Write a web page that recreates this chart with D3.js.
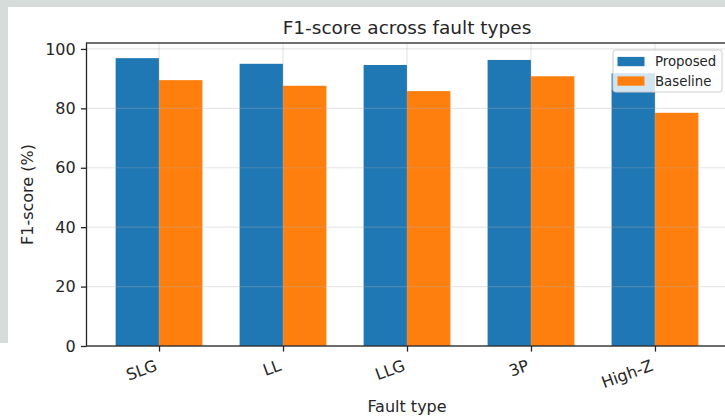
<!DOCTYPE html>
<html>
<head>
<meta charset="utf-8">
<script src="https://cdn.jsdelivr.net/npm/d3@7"></script>
<style>
  html, body { margin: 0; padding: 0; background: #ffffff; }
  svg { display: block; }
  text { font-family: "DejaVu Sans", sans-serif; fill: #262626; }
</style>
</head>
<body>
<svg id="chart" width="725" height="417"></svg>
<script>
// Fault categories and F1-scores (%) for the two methods
const faultTypes = ["SLG", "LL", "LLG", "3P", "High-Z"];
const proposedF1 = [96.9, 95.0, 94.6, 96.3, 91.8];
const baselineF1 = [89.5, 87.6, 85.8, 90.8, 78.5];
const yTicks = [0, 20, 40, 60, 80, 100];
const seriesNames = ["Proposed", "Baseline"];
const seriesColors = ["#1f77b4", "#ff7f0e"];

const W = 725, H = 417;
const svg = d3.select("#chart");

// page backdrop: grey band across the top and a strip down the left side
svg.append("rect").attr("x", 0).attr("y", 0).attr("width", W).attr("height", H).attr("fill", "#ffffff");
svg.append("rect").attr("x", 0).attr("y", 0).attr("width", W).attr("height", 7).attr("fill", "#d6dcd9");
svg.append("rect").attr("x", 0).attr("y", 0).attr("width", 8).attr("height", 343).attr("fill", "#d6dcd9");

// plot frame
const plotLeft = 86.5, plotRight = 727.5, plotTop = 43, plotBottom = 346;
const barWidth = 0.35;

const x = d3.scaleLinear().domain([-0.585, faultTypes.length - 1 + 0.585]).range([plotLeft, plotRight]);
const y = d3.scaleLinear().domain([0, 102]).range([plotBottom, plotTop]);

const g = svg.append("g");

// bars
const series = [proposedF1, baselineF1];
series.forEach((vals, s) => {
  const offset = s === 0 ? -barWidth / 2 : barWidth / 2;
  g.selectAll(null).data(vals).enter().append("rect")
    .attr("x", (d, i) => x(i + offset - barWidth / 2))
    .attr("width", (d, i) => x(i + offset + barWidth / 2) - x(i + offset - barWidth / 2))
    .attr("y", d => y(d))
    .attr("height", d => y(0) - y(d))
    .attr("fill", seriesColors[s]);
});

// grid lines (drawn over the bars, faint)
const grid = g.append("g").attr("stroke", "#b0b0b0").attr("stroke-opacity", 0.3).attr("stroke-width", 1.2);
grid.selectAll(null).data(yTicks).enter().append("line")
  .attr("x1", plotLeft).attr("x2", plotRight)
  .attr("y1", d => y(d)).attr("y2", d => y(d));
grid.selectAll(null).data(faultTypes).enter().append("line")
  .attr("x1", (d, i) => x(i)).attr("x2", (d, i) => x(i))
  .attr("y1", plotTop).attr("y2", plotBottom);

// y axis
const yAxis = d3.axisLeft(y).tickValues(yTicks).tickSize(5.6).tickPadding(5.2).tickFormat(d3.format("d"));
const yg = svg.append("g").attr("transform", `translate(${plotLeft},0)`).call(yAxis);
yg.select(".domain").remove();
yg.selectAll(".tick line").attr("stroke", "#262626").attr("stroke-width", 1.3);
yg.selectAll(".tick text").style("font-size", "16px").style("font-family", "DejaVu Sans").attr("fill", "#262626");

// x axis with slanted labels
const xAxis = d3.axisBottom(x).tickValues(d3.range(faultTypes.length)).tickSize(5.6).tickFormat(i => faultTypes[i]);
const xg = svg.append("g").attr("transform", `translate(0,${plotBottom})`).call(xAxis);
xg.select(".domain").remove();
xg.selectAll(".tick line").attr("stroke", "#262626").attr("stroke-width", 1.3);
xg.selectAll(".tick text")
  .style("font-size", "16px").style("font-family", "DejaVu Sans").attr("fill", "#262626")
  .attr("text-anchor", "end")
  .attr("dy", null)
  .attr("x", -1.3).attr("y", 24)
  .attr("transform", "rotate(-20,-1.3,24)");

// spines
svg.append("rect").attr("x", plotLeft).attr("y", plotTop)
  .attr("width", plotRight - plotLeft).attr("height", plotBottom - plotTop)
  .attr("fill", "none").attr("stroke", "#262626").attr("stroke-width", 1.3);

// title and axis labels
svg.append("text").attr("x", (plotLeft + plotRight) / 2).attr("y", 33.5).attr("text-anchor", "middle")
  .style("font-size", "18.5px").text("F1-score across fault types");
svg.append("text").attr("transform", `translate(33,${(plotTop + plotBottom) / 2}) rotate(-90)`).attr("text-anchor", "middle")
  .style("font-size", "16px").text("F1-score (%)");
svg.append("text").attr("x", (plotLeft + plotRight) / 2).attr("y", 412).attr("text-anchor", "middle")
  .style("font-size", "16px").text("Fault type");

// legend
const lg = svg.append("g").attr("transform", "translate(613,50)");
lg.append("rect").attr("width", 109).attr("height", 42).attr("rx", 2.7)
  .attr("fill", "#ffffff").attr("fill-opacity", 0.8).attr("stroke", "#cccccc").attr("stroke-width", 1);
seriesNames.forEach((name, s) => {
  const cy = 11.5 + s * 19.5;
  lg.append("rect").attr("x", 4.5).attr("y", cy - 4.6).attr("width", 27).attr("height", 9.3).attr("fill", seriesColors[s]);
  lg.append("text").attr("x", 42).attr("y", cy + 4.6).style("font-size", "13.3px").text(name);
});
</script>
</body>
</html>
